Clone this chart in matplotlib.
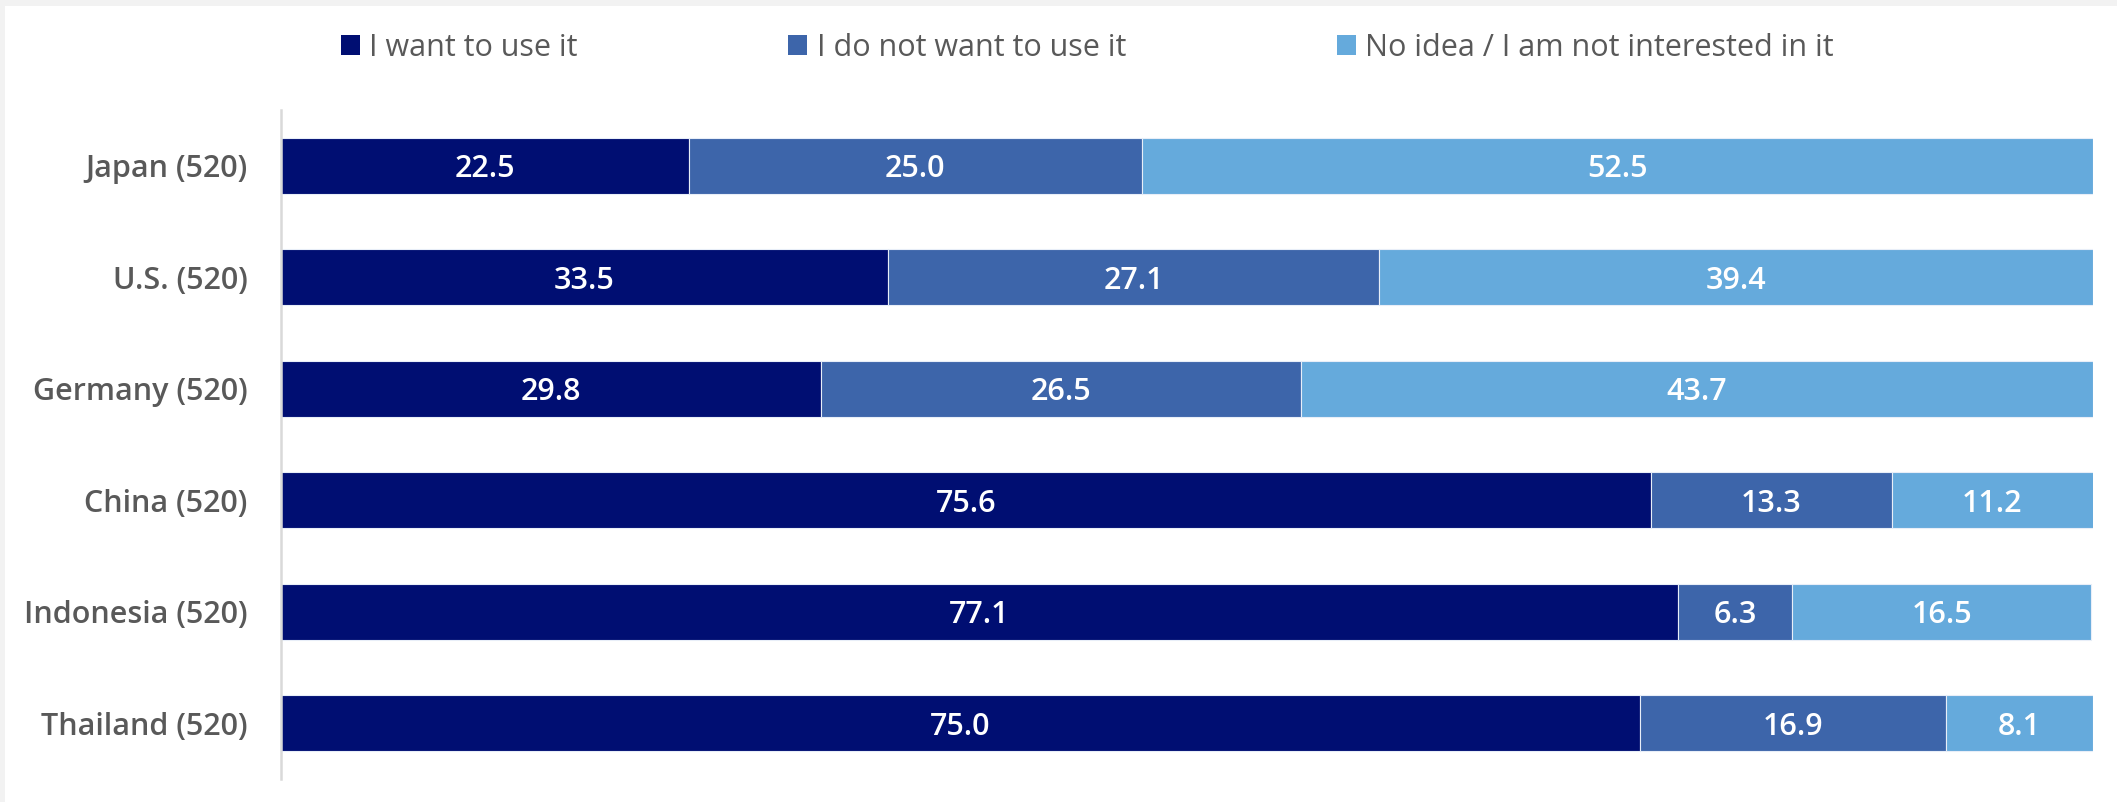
import matplotlib
matplotlib.use('Agg')
import matplotlib.pyplot as plt
from matplotlib.patches import Patch, Rectangle
import numpy as np

plt.rcParams['font.family'] = ['Open Sans', 'DejaVu Sans']

# survey: intention to use, share of respondents (%)
countries = ['Japan (520)', 'U.S. (520)', 'Germany (520)', 'China (520)', 'Indonesia (520)', 'Thailand (520)']
want = [22.5, 33.5, 29.8, 75.6, 77.1, 75.0]
dont_want = [25.0, 27.1, 26.5, 13.3, 6.3, 16.9]
no_idea = [52.5, 39.4, 43.7, 11.2, 16.5, 8.1]

series_names = ['I want to use it', 'I do not want to use it', 'No idea / I am not interested in it']
colors = ['#000E72', '#3D65AA', '#65AADC']
text_grey = '#595959'

fig = plt.figure(figsize=(21.17, 8.02), dpi=100)
fig.patch.set_facecolor('#f2f2f2')
# white panel with thin grey band on top and left
fig.patches.append(Rectangle((5 / 2117, 0), 1, 1 - 6 / 802, transform=fig.transFigure,
                             facecolor='white', edgecolor='none', zorder=-10))

ax = fig.add_axes([281 / 2117, 1 - 779 / 802, (2093 - 281) / 2117, (779 - 110) / 802])
ax.set_facecolor('none')

y = np.arange(len(countries))
left = np.zeros(len(countries))
for vals, name, c in zip([want, dont_want, no_idea], series_names, colors):
    bars = ax.barh(y, vals, left=left, height=0.5, color=c, edgecolor='#e8eef8', linewidth=0.8, label=name)
    texts = ax.bar_label(bars, labels=[f'{v:.1f}' for v in vals], label_type='center',
                         color='white', fontsize=22, fontweight='semibold')
    for t in texts:
        t.set_va('center_baseline')
    left = left + np.array(vals)

ax.set_xlim(0, 100)
ax.set_ylim(len(countries) - 0.5, -0.5)
ax.set_yticks(y)
ax.set_yticklabels(countries, fontsize=22, fontweight='semibold', color=text_grey)
ax.set_xticks([])
ax.tick_params(axis='y', length=0, pad=24)
for s in ['top', 'right', 'bottom']:
    ax.spines[s].set_visible(False)
ax.spines['left'].set_color('#d9d9d9')
ax.spines['left'].set_linewidth(1.8)

handles = [Patch(facecolor=c, edgecolor='none') for c in colors]
leg = fig.legend(handles, series_names, loc='center left', bbox_to_anchor=(341 / 2117, 1 - 48 / 802),
                 ncol=3, frameon=False, fontsize=22, handlelength=0.62, handleheight=0.62,
                 handletextpad=0.3, columnspacing=6.9, borderpad=0, borderaxespad=0)
for t in leg.get_texts():
    t.set_color(text_grey)

fig.savefig('out.png', dpi=100)
plt.close()
